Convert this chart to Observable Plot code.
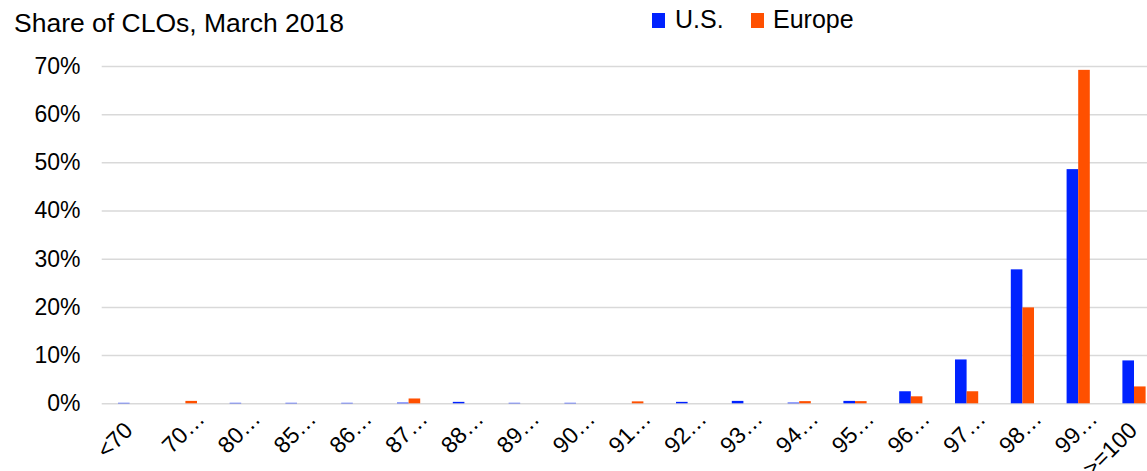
<!DOCTYPE html>
<html>
<head>
<meta charset="utf-8">
<script src="https://cdn.jsdelivr.net/npm/d3@7"></script>
<script src="https://cdn.jsdelivr.net/npm/@observablehq/plot@0.6"></script>
<style>
  html, body { margin: 0; padding: 0; background: #fff; overflow: hidden; }
  #header { position: relative; width: 1147px; height: 45px; font-family: "Liberation Sans", Arial, sans-serif; color: #000; }
  #title { position: absolute; left: 14px; top: 9.6px; font-size: 26.5px; line-height: 1; white-space: nowrap; }
  .sw { position: absolute; top: 13px; width: 13px; height: 15px; }
  .lt { position: absolute; top: 6.8px; font-size: 25px; line-height: 1; white-space: nowrap; }
</style>
</head>
<body>
<div id="header">
  <div id="title">Share of CLOs, March 2018</div>
  <div class="sw" style="left:652px;background:#0022ff"></div>
  <div class="lt" style="left:675px">U.S.</div>
  <div class="sw" style="left:751px;background:#ff5000"></div>
  <div class="lt" style="left:773px">Europe</div>
</div>
<div id="chart"></div>
<script>
const categories = ["<70","70…","80…","85…","86…","87…","88…","89…","90…","91…","92…","93…","94…","95…","96…","97…","98…","99…",">=100"];
const usValues     = [0.1, 0,   0.1, 0.1, 0.1, 0.15, 0.3, 0.1, 0.1, 0,   0.3, 0.5, 0.15, 0.5,  2.5,  9.1, 27.8, 48.6, 8.9];
const europeValues = [0,   0.5, 0,   0,   0,   1.0,  0,   0,   0,   0.4, 0,   0,   0.45, 0.45, 1.45, 2.5, 19.9, 69.2, 3.5];
const yTicks = [0, 10, 20, 30, 40, 50, 60, 70];
const seriesNames = ["U.S.", "Europe"];
const seriesColors = ["#0022ff", "#ff5000"];

const usData = categories.map((c, i) => ({cat: c, value: usValues[i], series: seriesNames[0]}));
const euData = categories.map((c, i) => ({cat: c, value: europeValues[i], series: seriesNames[1]}));
const ellipsisCats = categories.filter(c => c.endsWith("…"));
const plainCats = categories.filter(c => !c.endsWith("…"));

const chart = Plot.plot({
  width: 1147,
  height: 426,
  marginTop: 21,
  marginBottom: 67.7,
  marginLeft: 101.7,
  marginRight: 0,
  style: {fontFamily: "Liberation Sans, Arial, sans-serif", fontSize: "23px", color: "#000", background: "#fff"},
  x: {domain: categories, range: [101.7, 1161.9], paddingInner: 0.792, paddingOuter: 0.396, round: false, axis: null},
  y: {domain: [0, 70], ticks: yTicks, tickFormat: d => d + "%", tickSize: 0, tickPadding: 21.7, label: null},
  color: {domain: seriesNames, range: seriesColors},
  marks: [
    Plot.ruleY(yTicks, {stroke: "#d9d9d9", strokeWidth: 1.5}),
    Plot.barY(usData, {x: "cat", y: "value", fill: "series", dx: -5.8}),
    Plot.barY(euData, {x: "cat", y: "value", fill: "series", dx: 5.8}),
    Plot.text(plainCats, {x: d => d, frameAnchor: "bottom", rotate: -45, textAnchor: "end", lineAnchor: "bottom", dx: 4, dy: 28, fontSize: 23, fill: "#000"}),
    Plot.text(ellipsisCats, {x: d => d, frameAnchor: "bottom", rotate: -45, textAnchor: "end", lineAnchor: "bottom", dx: 20, dy: 16.5, fontSize: 23, fill: "#000"})
  ]
});
document.getElementById("chart").appendChild(chart);
</script>
</body>
</html>
